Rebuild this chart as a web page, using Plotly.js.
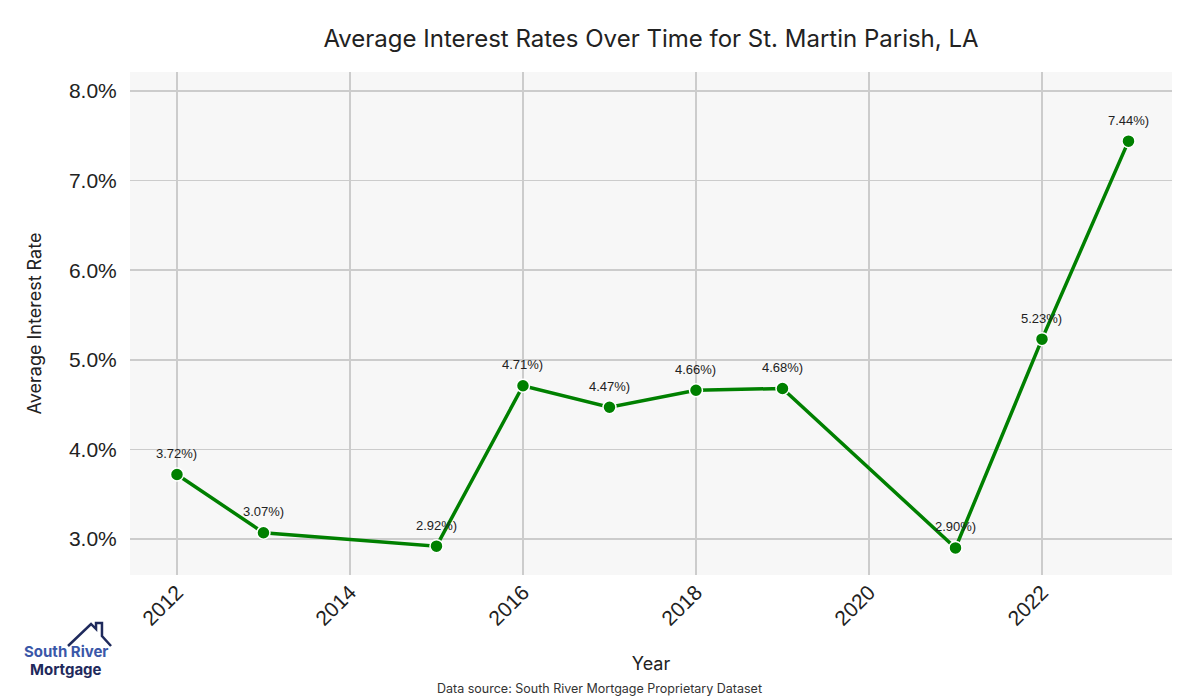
<!DOCTYPE html>
<html>
<head>
<meta charset="utf-8">
<script src="https://cdn.plot.ly/plotly-3.0.1.min.js"></script>
<style>html,body{margin:0;padding:0;background:#fff;}#chart{width:1200px;height:700px;}</style>
</head>
<body>
<div id="chart"></div>
<script>
const years = [2012, 2013, 2015, 2016, 2017, 2018, 2019, 2021, 2022, 2023];
const rates = [3.72, 3.07, 2.92, 4.71, 4.47, 4.66, 4.68, 2.90, 5.23, 7.44];
const labels = ["3.72%)", "3.07%)", "2.92%)", "4.71%)", "4.47%)", "4.66%)", "4.68%)", "2.90%)", "5.23%)", "7.44%)"];
const xTicks = [2012, 2014, 2016, 2018, 2020, 2022];
const yTicks = [3, 4, 5, 6, 7, 8];

const trace = {
  x: years, y: rates, type: 'scatter', mode: 'lines+markers',
  line: {color: '#008000', width: 3.5},
  marker: {color: '#008000', size: 13, line: {color: '#ffffff', width: 1.5}},
  hoverinfo: 'skip', showlegend: false
};

const annotations = years.map((yr, i) => ({
  x: yr, y: rates[i], xref: 'x', yref: 'y', text: labels[i], showarrow: false,
  yshift: 21, font: {family: 'Liberation Sans, Arial, sans-serif', size: 13, color: '#222'}
}));

annotations.push({
  xref: 'paper', yref: 'paper', x: 0.451, y: -0.2247, xanchor: 'center', yanchor: 'middle',
  text: 'Data source: South River Mortgage Proprietary Dataset', showarrow: false,
  font: {family: 'Inter, sans-serif', size: 12.5, color: '#333'}
});
annotations.push({
  xref: 'paper', yref: 'paper', x: -0.0614, y: -0.153, xanchor: 'center', yanchor: 'middle',
  text: '<b>South River</b>', showarrow: false,
  font: {family: 'Inter, sans-serif', size: 15, color: '#3a57a8'}
});
annotations.push({
  xref: 'paper', yref: 'paper', x: -0.0614, y: -0.187, xanchor: 'center', yanchor: 'middle',
  text: '<b>Mortgage</b>', showarrow: false,
  font: {family: 'Inter, sans-serif', size: 15, color: '#1f2a5c'}
});

const layout = {
  width: 1200, height: 700,
  margin: {l: 130, r: 28, t: 72, b: 125},
  paper_bgcolor: '#ffffff', plot_bgcolor: '#f7f7f7',
  title: {text: 'Average Interest Rates Over Time for St. Martin Parish, LA',
          xref: 'paper', x: 0.5, xanchor: 'center', y: 0.957,
          font: {family: 'Inter, sans-serif', size: 24, color: '#222'}},
  xaxis: {
    range: [2011.457, 2023.503], tickvals: xTicks, ticktext: xTicks.map(String),
    tickangle: -45, showgrid: true, gridcolor: '#cccccc', gridwidth: 1.5,
    zeroline: false, showline: false, ticks: '',
    tickfont: {family: 'Liberation Sans, Arial, sans-serif', size: 21, color: '#222'},
    title: {text: 'Year', standoff: 28, font: {family: 'Inter, sans-serif', size: 18, color: '#222'}}
  },
  yaxis: {
    range: [2.598, 8.212], tickvals: yTicks, ticktext: yTicks.map(v => v.toFixed(1) + '%'),
    showgrid: true, gridcolor: '#cccccc', gridwidth: 1.5,
    zeroline: false, showline: false, ticks: 'outside', ticklen: 8, tickcolor: '#ffffff',
    tickfont: {family: 'Liberation Sans, Arial, sans-serif', size: 21, color: '#222'},
    title: {text: 'Average Interest Rate', standoff: 22, font: {family: 'Inter, sans-serif', size: 18, color: '#222'}}
  },
  annotations: annotations,
  shapes: [{
    type: 'path', xref: 'paper', yref: 'paper',
    path: 'M -0.0595 -0.1412 L -0.0374 -0.0974 L -0.0326 -0.1074 L -0.0326 -0.0954 L -0.0269 -0.0954 L -0.0269 -0.1213 L -0.0182 -0.1412',
    line: {color: '#1f2a5c', width: 2.5}
  }]
};

Plotly.newPlot('chart', [trace], layout, {displayModeBar: false, staticPlot: true});
</script>
</body>
</html>
